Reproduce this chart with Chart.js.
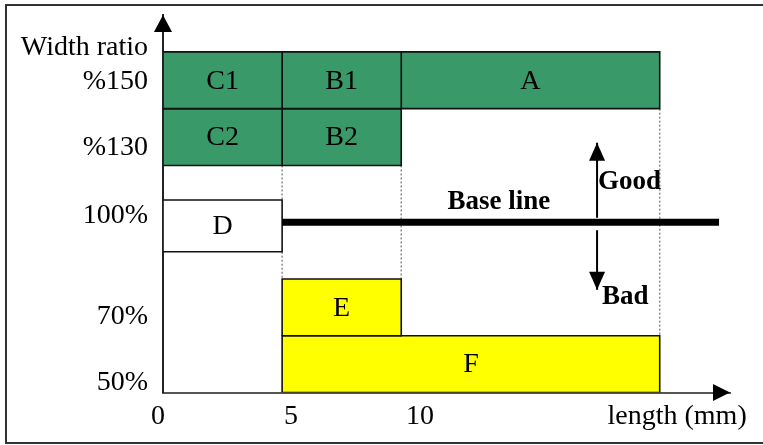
<!DOCTYPE html>
<html><head><meta charset="utf-8">
<script src="https://cdn.jsdelivr.net/npm/chart.js@4.4.0/dist/chart.umd.min.js"></script>
<style>html,body{margin:0;padding:0;background:#fff;}canvas{display:block;}</style>
</head><body>
<canvas id="c" width="763" height="445"></canvas>
<script>
// ---- data ----
const boxNames  = ['C1', 'B1', 'A', 'C2', 'B2', 'D', 'E', 'F'];
const boxXStart = [0, 5, 10, 0, 5, 0, 5, 5];
const boxXEnd   = [5, 10, 20.85, 5, 10, 5, 10, 20.85];
const boxYLow   = [5, 5, 5, 4, 4, 2.48, 1, 0];
const boxYHigh  = [6, 6, 6, 5, 5, 3.39, 2, 1];
const boxGroup  = ['good', 'good', 'good', 'good', 'good', 'base', 'bad', 'bad'];

const baseLineLevel = 3;
const baseLineFrom = 5;
const baseLineTo = 23.34;

const yTickValues = [0.17, 1.33, 3.11, 4.31, 5.47, 6.07];
const yTickLabels = ['50%', '70%', '100%', '%130', '%150', 'Width ratio'];
const xTickValues = [-0.21, 5.37, 10.79, 21.58];
const xTickLabels = ['0', '5', '10', 'length (mm)'];

const guideX     = [5, 5, 10, 20.85];
const guideYFrom = [4, 2.48, 4, 5];
const guideYTo   = [3.39, 2, 2, 1];

const arrowX = 18.22;
const goodArrowFrom = 3.08, goodArrowTo = 4.40;
const badArrowFrom = 2.86, badArrowTo = 1.81;

const noteTexts = ['Base line', 'Good', 'Bad'];
const noteX     = [14.1, 18.26, 18.43];
const noteY     = [3.36, 3.71, 1.68];

// ---- styles ----
const groupFill = { good: '#3a9968', base: '#ffffff', bad: '#ffff00' };
const SERIF = '"Liberation Serif", "Times New Roman", serif';

const datasets = [];
datasets.push({
  label: 'base', data: [{x: baseLineFrom, y: baseLineLevel}, {x: baseLineTo, y: baseLineLevel}],
  showLine: true, borderColor: '#000', borderWidth: 7, pointRadius: 0, borderCapStyle: 'butt', order: 0
});
datasets.push({
  label: 'good', data: [{x: arrowX, y: goodArrowFrom}, {x: arrowX, y: goodArrowTo}],
  showLine: true, borderColor: '#000', borderWidth: 2, pointRadius: 0, order: 0
});
datasets.push({
  label: 'bad', data: [{x: arrowX, y: badArrowFrom}, {x: arrowX, y: badArrowTo}],
  showLine: true, borderColor: '#000', borderWidth: 2, pointRadius: 0, order: 0
});
boxNames.forEach((n, i) => {
  const x0 = boxXStart[i], x1 = boxXEnd[i], y0 = boxYLow[i], y1 = boxYHigh[i];
  datasets.push({
    label: n,
    data: [{x: x0, y: y0}, {x: x1, y: y0}, {x: x1, y: y1}, {x: x0, y: y1}, {x: x0, y: y0}],
    showLine: true, fill: 'shape', backgroundColor: groupFill[boxGroup[i]],
    borderColor: '#111', borderWidth: 1.6, pointRadius: 0, tension: 0, order: 2
  });
});
guideX.forEach((gx, i) => {
  datasets.push({
    label: 'guide' + i, data: [{x: gx, y: guideYFrom[i]}, {x: gx, y: guideYTo[i]}],
    showLine: true, borderColor: '#8a8a8a', borderWidth: 1.5, borderDash: [2, 2], pointRadius: 0, order: 5
  });
});

function tri(ctx, tx, ty, dir, len, half) {
  ctx.beginPath();
  if (dir === 'up') { ctx.moveTo(tx, ty); ctx.lineTo(tx - half, ty + len); ctx.lineTo(tx + half, ty + len); }
  else if (dir === 'down') { ctx.moveTo(tx, ty); ctx.lineTo(tx - half, ty - len); ctx.lineTo(tx + half, ty - len); }
  else { ctx.moveTo(tx, ty); ctx.lineTo(tx - len, ty - half); ctx.lineTo(tx - len, ty + half); }
  ctx.closePath(); ctx.fill();
}

const deco = {
  id: 'deco',
  beforeDraw(chart) {
    const ctx = chart.ctx;
    ctx.save();
    ctx.fillStyle = '#fff'; ctx.fillRect(0, 0, chart.width, chart.height);
    ctx.strokeStyle = '#333'; ctx.lineWidth = 2;
    ctx.beginPath();
    ctx.moveTo(chart.width, 5); ctx.lineTo(6, 5); ctx.lineTo(6, 443); ctx.lineTo(chart.width, 443);
    ctx.stroke();
    ctx.restore();
  },
  afterDraw(chart) {
    const ctx = chart.ctx, xs = chart.scales.x, ys = chart.scales.y, a = chart.chartArea;
    ctx.save();
    ctx.fillStyle = '#000';
    ctx.textAlign = 'center'; ctx.textBaseline = 'middle';
    ctx.font = '28px ' + SERIF;
    boxNames.forEach((n, i) => {
      const cx = xs.getPixelForValue((boxXStart[i] + boxXEnd[i]) / 2);
      const cy = ys.getPixelForValue((boxYLow[i] + boxYHigh[i]) / 2);
      ctx.fillText(n, cx, cy + 1);
    });
    ctx.font = 'bold 27px ' + SERIF;
    noteTexts.forEach((t, i) => {
      ctx.textAlign = i === 0 ? 'center' : 'left';
      ctx.fillText(t, xs.getPixelForValue(noteX[i]), ys.getPixelForValue(noteY[i]));
    });
    // arrowheads
    const ax = xs.getPixelForValue(arrowX);
    tri(ctx, ax, ys.getPixelForValue(goodArrowTo), 'up', 18, 8);
    tri(ctx, ax, ys.getPixelForValue(badArrowTo), 'down', 18, 8);
    tri(ctx, xs.getPixelForValue(0), a.top, 'up', 17, 9);
    tri(ctx, a.right, ys.getPixelForValue(0), 'right', 17, 8.5);
    ctx.restore();
  }
};

new Chart(document.getElementById('c'), {
  type: 'scatter',
  data: { datasets },
  plugins: [deco],
  options: {
    responsive: false, animation: false, devicePixelRatio: 1,
    layout: { padding: { top: 15, right: 33, left: 0, bottom: 0 } },
    plugins: { legend: { display: false }, tooltip: { enabled: false } },
    scales: {
      x: {
        type: 'linear', min: 0, max: 23.8, bounds: 'data',
        grid: { display: false, drawTicks: false },
        border: { display: true, color: '#555', width: 2 },
        afterBuildTicks: s => { s.ticks = xTickValues.map(v => ({ value: v })); },
        afterFit: s => { s.height = 52.5; s.paddingLeft = 0; s.paddingRight = 0; },
        ticks: {
          autoSkip: false, maxRotation: 0, minRotation: 0, padding: 7, color: '#000',
          font: { family: SERIF, size: 28 },
          callback: (v, i) => xTickLabels[i]
        }
      },
      y: {
        type: 'linear', min: 0, max: 6.65, bounds: 'data',
        grid: { display: false, drawTicks: false },
        border: { display: true, color: '#222', width: 2 },
        afterBuildTicks: s => { s.ticks = yTickValues.map(v => ({ value: v })); },
        afterFit: s => { s.width = 163; s.paddingTop = 0; s.paddingBottom = 0; },
        ticks: {
          autoSkip: false, padding: 15, color: '#000',
          font: { family: SERIF, size: 28 },
          callback: (v, i) => yTickLabels[i]
        }
      }
    }
  }
});
</script>
</body></html>
